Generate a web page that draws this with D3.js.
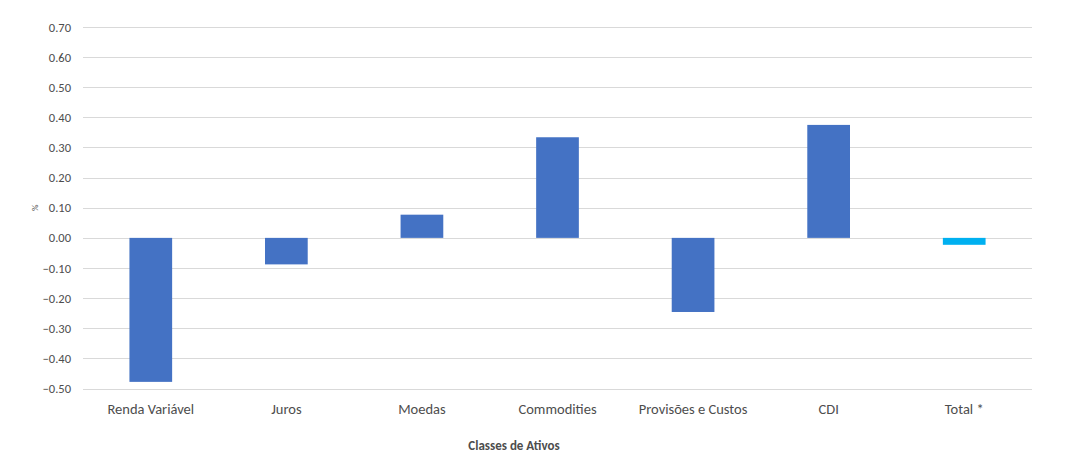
<!DOCTYPE html>
<html>
<head>
<meta charset="utf-8">
<script src="https://cdn.jsdelivr.net/npm/d3@7"></script>
<style>
  body { margin: 0; background: #fff; }
  text { font-family: Carlito, Lato, "Liberation Sans", sans-serif; }
</style>
</head>
<body>
<svg width="1065" height="453"></svg>
<script>
// data (% contribution per asset class)
let categories = ["Renda Variável", "Juros", "Moedas", "Commodities", "Provisões e Custos", "CDI", "Total *"];
let values = [-0.478, -0.088, 0.077, 0.334, -0.246, 0.375, -0.023];
let yTicks = [-0.5, -0.4, -0.3, -0.2, -0.1, 0, 0.1, 0.2, 0.3, 0.4, 0.5, 0.6, 0.7];

let margin = {top: 27, right: 33, bottom: 64, left: 83};
let width = 1065 - margin.left - margin.right;
let height = 453 - margin.top - margin.bottom - 0.5;

var svg = d3.select("svg");
var g = svg.append("g").attr("transform", "translate(" + margin.left + "," + margin.top + ")");

var x = d3.scaleBand()
          .domain(categories)
          .range([0, width])
          .paddingInner(0.685)
          .paddingOuter(0.3425);

var y = d3.scaleLinear()
          .domain([-0.5, 0.7])
          .range([height, 0]);

// grid lines
g.append("g")
 .selectAll("line")
 .data(yTicks)
 .enter().append("line")
 .attr("x1", 0)
 .attr("x2", width)
 .attr("y1", d => Math.round(y(d)) + 0.5)
 .attr("y2", d => Math.round(y(d)) + 0.5)
 .attr("stroke", "#d9d9d9")
 .attr("stroke-width", 1);

// y axis labels
var yAxis = g.append("g")
 .call(d3.axisLeft(y).tickValues(yTicks).tickFormat(d3.format(".2f")).tickSize(0).tickPadding(12));
yAxis.select(".domain").remove();
yAxis.selectAll("text")
 .attr("fill", "#4d4d4d")
 .style("font-size", "12.5px");

// bars
g.selectAll("rect.bar")
 .data(values)
 .enter().append("rect")
 .attr("class", "bar")
 .attr("x", (d, i) => x(categories[i]))
 .attr("width", x.bandwidth())
 .attr("y", d => y(Math.max(0, d)))
 .attr("height", d => Math.abs(y(d) - y(0)))
 .attr("fill", (d, i) => i === categories.length - 1 ? "#00b0f0" : "#4472c4");

// x axis labels
var xAxis = g.append("g")
 .attr("transform", "translate(0," + height + ")")
 .call(d3.axisBottom(x).tickSize(0).tickPadding(15));
xAxis.select(".domain").remove();
xAxis.selectAll("text")
 .attr("fill", "#4d4d4d")
 .style("font-size", "14.5px");

// y axis title
svg.append("text")
 .attr("transform", "translate(38," + (margin.top + y(0.1)) + ") rotate(-90)")
 .attr("text-anchor", "middle")
 .attr("fill", "#4d4d4d")
 .style("font-size", "9px")
 .text("%");

// x axis title
svg.append("text")
 .attr("x", 514)
 .attr("y", 450)
 .attr("text-anchor", "middle")
 .attr("fill", "#4d4d4d")
 .style("font-size", "13px")
 .style("font-weight", "bold")
 .text("Classes de Ativos");
</script>
</body>
</html>
